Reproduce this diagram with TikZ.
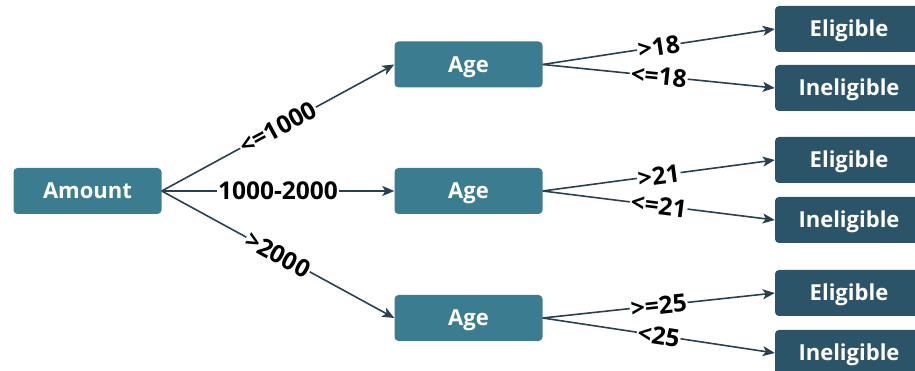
\documentclass[tikz,border=0pt]{standalone}
\usepackage{fontspec}
\setmainfont{Open Sans}
\usetikzlibrary{arrows.meta}
\definecolor{inner}{HTML}{3B7C91}
\definecolor{leafc}{HTML}{2C5468}
\definecolor{edgec}{HTML}{28404F}
\tikzset{
  box/.style={rounded corners=4pt, minimum width=148pt, minimum height=46pt, inner sep=0pt, text=white, text height=16pt, text depth=0pt, font=\fontsize{22}{24}\selectfont\bfseries},
  inbox/.style={box, fill=inner},
  leafbox/.style={box, fill=leafc},
  conn/.style={draw=edgec, line width=1.6pt, -{Stealth[length=12pt,width=10pt,inset=3pt]}},
  lbl/.style={midway, sloped, fill=white, inner sep=1pt, text=black, font=\fontsize{24.5}{26}\selectfont\bfseries}
}
\begin{document}
\begin{tikzpicture}[x=1pt,y=1pt]
\clip (0,0) rectangle (915,371);
\node[inbox] (amount) at (87.5,180) {Amount};
\node[inbox] (age1) at (468.5,306.5) {Age};
\node[inbox] (age2) at (468.5,180) {Age};
\node[inbox] (age3) at (468.5,53) {Age};
\node[leafbox] (e1) at (849,342) {Eligible};
\node[leafbox] (i1) at (849,283) {Ineligible};
\node[leafbox] (e2) at (849,211) {Eligible};
\node[leafbox] (i2) at (849,151) {Ineligible};
\node[leafbox] (e3) at (849,78) {Eligible};
\node[leafbox] (i3) at (849,18) {Ineligible};
\draw[conn] (amount.east) -- node[lbl] {<=1000} (age1.west);
\draw[conn] (amount.east) -- node[lbl] {1000-2000} (age2.west);
\draw[conn] (amount.east) -- node[lbl] {>2000} (age3.west);
\draw[conn] (age1.east) -- node[lbl] {>18} (e1.west);
\draw[conn] (age1.east) -- node[lbl] {<=18} (i1.west);
\draw[conn] (age2.east) -- node[lbl] {>21} (e2.west);
\draw[conn] (age2.east) -- node[lbl] {<=21} (i2.west);
\draw[conn] (age3.east) -- node[lbl] {>=25} (e3.west);
\draw[conn] (age3.east) -- node[lbl] {<25} (i3.west);
\end{tikzpicture}
\end{document}
